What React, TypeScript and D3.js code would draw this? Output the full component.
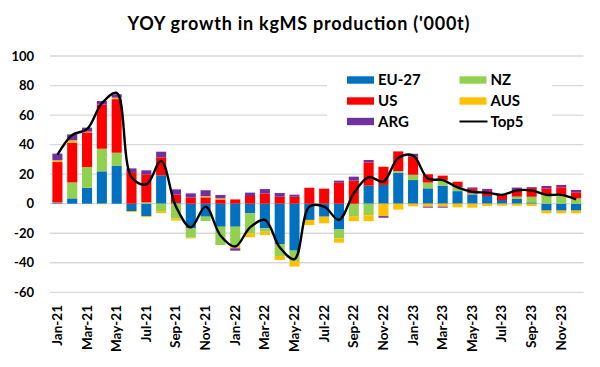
import React from "react";
import * as d3 from "d3";

const months = [
  "Jan-21","Feb-21","Mar-21","Apr-21","May-21","Jun-21","Jul-21","Aug-21","Sep-21","Oct-21","Nov-21","Dec-21",
  "Jan-22","Feb-22","Mar-22","Apr-22","May-22","Jun-22","Jul-22","Aug-22","Sep-22","Oct-22","Nov-22","Dec-22",
  "Jan-23","Feb-23","Mar-23","Apr-23","May-23","Jun-23","Jul-23","Aug-23","Sep-23","Oct-23","Nov-23","Dec-23",
];

const eu27 = [0.4,3.6,10.8,21.9,25.5,-5,-8.4,19.2,0.5,-16.7,-8.8,-15.6,
  -15.6,-6.5,-16.7,-27.3,-31.8,-11,-8.8,-17.4,0,12.2,12.7,21,
  16,10.4,12.2,8.5,6.3,5.2,2.5,3.2,0.9,-4.7,-4.7,-4.7];
const nz = [0.4,10.8,14,15.3,9,0,0.9,-5,-10,-6.3,-2.9,-12.4,
  -13,-13.5,-2.3,-8.1,-7,0,0,-6.1,-8.4,-7.8,0,1.1,
  3.6,3.9,3.6,2.8,0.7,0,0,1.6,3.8,5.9,5.9,3.6];
const us = [27.4,26.9,23.5,30,36.3,21.4,19,12.2,5.6,4.3,4.3,2.9,
  2.9,5.2,7,4.7,4.7,10.8,10.2,14.2,15.6,15.8,12.3,13.3,
  12.2,5.6,3.2,3.6,3,3.4,3.6,4.5,6.1,4.5,5.2,4.1];
const aus = [1.2,1.6,0.5,-0.3,1,-0.7,-0.7,-1.4,-1.4,-0.5,0.8,0.7,
  -1.6,-2.7,-2.3,-2.7,-3.8,-3.4,-4.5,-2.9,-3.4,-4,-8.4,-4,
  -1.8,-2,-2,-2.5,-2.7,-1.6,-1.4,-1.4,-1.6,-1.8,-1.8,-1.8];
const arg = [4.5,4,2.7,2.3,2.3,2.5,2.7,3.8,3.6,2.7,4,2.3,
  -1.6,2.3,2.9,2.5,1.4,0,0,1.4,2.7,1.6,-1.1,0,
  2,-0.7,-0.7,0,1,1.4,0.5,1.6,0.5,1.6,1.6,1.6];
const top5 = [33,46.5,50.5,68,75,18,13,29,-2,-16,-2,-21.5,
  -29,-16,-11,-29.5,-37.5,-2,-2,-11,7,18,15,31,
  32.5,17,16,11,8,7.5,6,9,9,6,6,3];

const seriesNames = ["EU-27","NZ","US","AUS","ARG"];
const seriesValues = [eu27, nz, us, aus, arg];
const colors = ["#0070C0","#92D050","#FF0000","#FFC000","#7030A0"];
const yTicks = [-60,-40,-20,0,20,40,60,80,100];

const W = 600, H = 367;
const M = { left: 50, right: 583.5, top: 56, bottom: 292.3 };
const FONT = "Lato, 'Open Sans', sans-serif";

export default function App() {
  const x = d3.scaleBand<string>().domain(months).range([M.left, M.right]).paddingInner(0.32).paddingOuter(0.16);
  const y = d3.scaleLinear().domain([-60, 100]).range([M.bottom, M.top]);

  const rows = months.map((m, i) => {
    const r: any = { month: m };
    seriesNames.forEach((s, k) => (r[s] = seriesValues[k][i]));
    return r;
  });
  const stacked = d3.stack<any>().keys(seriesNames).offset(d3.stackOffsetDiverging)(rows);

  const line = d3.line<number>()
    .x((_, i) => (x(months[i]) as number) + x.bandwidth() / 2)
    .y((v) => y(v))
    .curve(d3.curveCatmullRom.alpha(0.5));

  const legendItems = [
    { name: "EU-27", color: colors[0], col: 0, row: 0 },
    { name: "NZ", color: colors[1], col: 1, row: 0 },
    { name: "US", color: colors[2], col: 0, row: 1 },
    { name: "AUS", color: colors[3], col: 1, row: 1 },
    { name: "ARG", color: colors[4], col: 0, row: 2 },
  ];
  const colX = [347, 459.5];
  const rowY = [80, 101, 121.5];

  return (
    <svg width={W} height={H} style={{ position: "absolute", left: 0, top: 0, background: "#fff" }} fontFamily={FONT}>
      <rect x={0} y={0} width={W} height={H} fill="#fff" />
      <text x={298.5} y={30} textAnchor="middle" fontSize={18} fontWeight="bold" fill="#000"
        textLength={342} lengthAdjust="spacing">
        YOY growth in kgMS production ('000t)
      </text>
      {yTicks.map((t) => (
        <g key={t}>
          <line x1={M.left} x2={M.right} y1={y(t)} y2={y(t)} stroke="#d9d9d9" strokeWidth={1.3} />
          <text x={34} y={y(t)} dy="0.35em" textAnchor="end" fontSize={13} fontWeight="bold" fill="#000">
            {t}
          </text>
        </g>
      ))}
      {stacked.map((s, k) => (
        <g key={s.key} fill={colors[k]}>
          {s.map((d, i) => (
            <rect
              key={i}
              x={x(months[i]) as number}
              width={x.bandwidth()}
              y={y(Math.max(d[0], d[1]))}
              height={Math.abs(y(d[0]) - y(d[1]))}
            />
          ))}
        </g>
      ))}
      <path d={line(top5) || ""} fill="none" stroke="#000" strokeWidth={2.4} />
      {months.map((m, i) =>
        i % 2 === 0 ? (
          <text
            key={m}
            transform={`translate(${(x(m) as number) + x.bandwidth() / 2 + 4.5},305) rotate(-90)`}
            textAnchor="end"
            fontSize={13.5}
            fontWeight="bold"
            fill="#000"
          >
            {m}
          </text>
        ) : null
      )}
      <rect x={327} y={66} width={225} height={68} fill="#fff" />
      {legendItems.map((it) => (
        <g key={it.name}>
          <rect x={colX[it.col]} y={rowY[it.row] - 3.7} width={27} height={7.4} fill={it.color} />
          <text x={colX[it.col] + 31} y={rowY[it.row]} dy="0.36em" fontSize={15} fontWeight="bold" fill="#000">
            {it.name}
          </text>
        </g>
      ))}
      <line x1={colX[1]} x2={colX[1] + 28} y1={rowY[2]} y2={rowY[2]} stroke="#000" strokeWidth={2} />
      <text x={colX[1] + 31} y={rowY[2]} dy="0.36em" fontSize={15} fontWeight="bold" fill="#000">
        Top5
      </text>
    </svg>
  );
}
